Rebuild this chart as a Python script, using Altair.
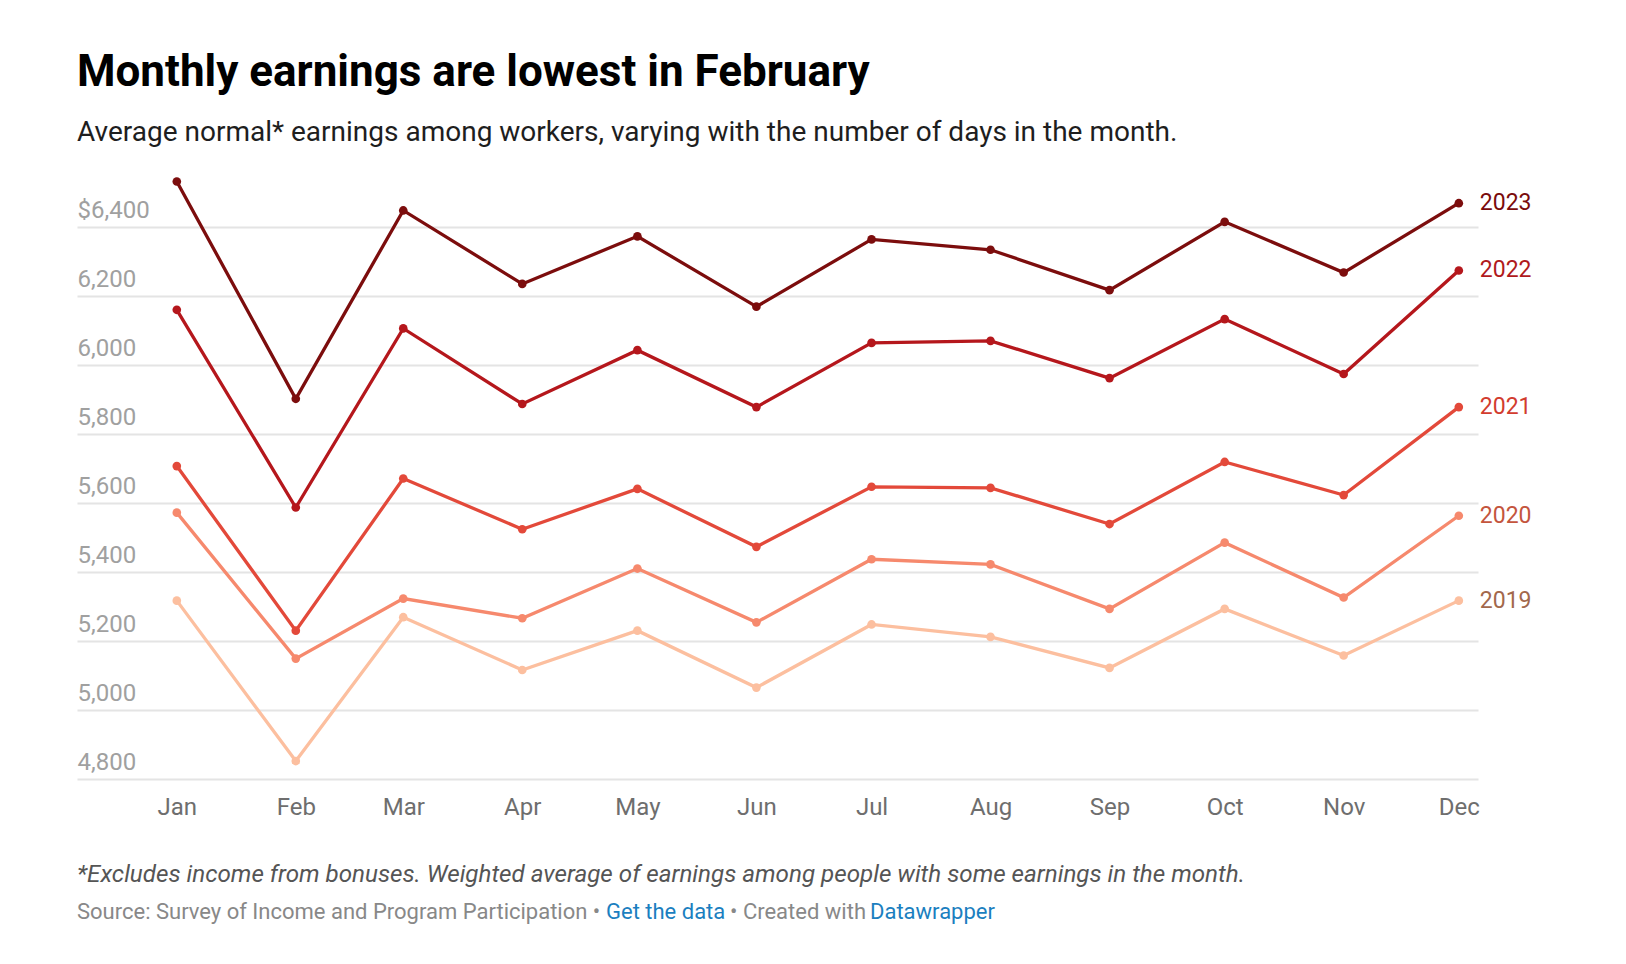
import altair as alt
import pandas as pd

# ---------------- data ----------------
month_starts = ["2023-01-01", "2023-02-01", "2023-03-01", "2023-04-01", "2023-05-01", "2023-06-01",
                "2023-07-01", "2023-08-01", "2023-09-01", "2023-10-01", "2023-11-01", "2023-12-01"]
years = ["2019", "2020", "2021", "2022", "2023"]

earn_2019 = [5317, 4852, 5269, 5116, 5230, 5065, 5248, 5212, 5122, 5293, 5158, 5317]
earn_2020 = [5572, 5149, 5323, 5266, 5410, 5254, 5437, 5422, 5293, 5485, 5326, 5563]
earn_2021 = [5707, 5230, 5671, 5524, 5641, 5473, 5647, 5644, 5539, 5719, 5623, 5878]
earn_2022 = [6160, 5587, 6106, 5887, 6043, 5878, 6064, 6070, 5962, 6133, 5974, 6274]
earn_2023 = [6532, 5902, 6448, 6235, 6373, 6169, 6364, 6334, 6217, 6415, 6268, 6469]
series = [earn_2019, earn_2020, earn_2021, earn_2022, earn_2023]

y_ticks = [4800, 5000, 5200, 5400, 5600, 5800, 6000, 6200, 6400]

line_colors = ["#fcbf9f", "#f6896d", "#e3493a", "#b5171c", "#7c0d0d"]
label_colors = ["#a2684c", "#c4553d", "#d23c2e", "#b01a1c", "#7a0b0b"]

title_text = "Monthly earnings are lowest in February"
subtitle_text = "Average normal* earnings among workers, varying with the number of days in the month."
footnote_text = "*Excludes income from bonuses. Weighted average of earnings among people with some earnings in the month."
source_parts = ["Source: Survey of Income and Program Participation \u2022", "Get the data",
                "\u2022 Created with", "Datawrapper"]
source_colors = ["#888888", "#1b7fc0", "#888888", "#1b7fc0"]

rows = []
for yr, vals in zip(years, series):
    for d, v in zip(month_starts, vals):
        rows.append({"year": yr, "date": d, "value": v})
df = pd.DataFrame(rows)
last = df[df["date"] == month_starts[-1]]

W = 1401
H = 621

x_enc = alt.X(
    "date:T",
    scale=alt.Scale(type="utc", domain=[alt.DateTime(year=2022, month=12, date=6, utc=True),
                                        alt.DateTime(year=2023, month=12, date=6, utc=True)]),
    axis=alt.Axis(
        values=[alt.DateTime(year=2023, month=m, date=1, utc=True) for m in range(1, 13)],
        format="%b", labelFont="Roboto", labelFontSize=24, labelColor="#6e6e6e",
        labelPadding=16, labelFlush=False, domain=False, ticks=False, grid=False, title=None,
    ),
)
y_enc = alt.Y(
    "value:Q",
    scale=alt.Scale(domain=[4800, 6600], nice=False, zero=False),
    axis=alt.Axis(
        values=y_ticks,
        labelExpr="datum.value == 6400 ? '$6,400' : format(datum.value, ',')",
        labelAlign="left", labelBaseline="alphabetic", labelOffset=-10, labelPadding=0,
        ticks=False, tickSize=0, domain=False, grid=True, gridColor="#e4e4e4", gridWidth=2,
        labelFont="Roboto", labelFontSize=24, labelColor="#a0a0a0", title=None,
    ),
)
color_enc = alt.Color("year:N", scale=alt.Scale(domain=years, range=line_colors), legend=None)

base = alt.Chart(df)
lines = base.mark_line(strokeWidth=3.3).encode(x=x_enc, y=y_enc, color=color_enc)
points = base.mark_circle(size=75, opacity=1).encode(x=x_enc, y=y_enc, color=color_enc)
labels = alt.Chart(last).mark_text(
    align="left", baseline="middle", dx=21, font="Roboto", fontSize=23
).encode(
    x=x_enc, y=y_enc, text="year:N",
    fill=alt.Fill("year:N", scale=alt.Scale(domain=years, range=label_colors), legend=None),
)

foot = alt.Chart(pd.DataFrame({"t": [footnote_text]})).mark_text(
    align="left", baseline="alphabetic", font="Roboto", fontSize=24.2, fontStyle="italic", color="#555555"
).encode(text="t:N", x=alt.value(0), y=alt.value(H + 103))

src_x = [0, 529, 653, 793]
src_layers = []
for txt, col, xx in zip(source_parts, source_colors, src_x):
    src_layers.append(
        alt.Chart(pd.DataFrame({"t": [txt]})).mark_text(
            align="left", baseline="alphabetic", font="Roboto", fontSize=22, color=col
        ).encode(text="t:N", x=alt.value(xx), y=alt.value(H + 140))
    )

chart = alt.layer(lines, points, labels, foot, *src_layers).resolve_scale(
    color="independent", fill="independent"
).properties(
    width=W, height=H,
    background="white",
    title=alt.TitleParams(
        text=title_text, subtitle=subtitle_text, anchor="start", frame="group",
        font="Roboto", fontSize=44, fontWeight="bold", color="#000000",
        subtitleFont="Roboto", subtitleFontSize=28, subtitleColor="#1e1e1e",
        subtitlePadding=24, offset=11, dx=0,
    ),
    padding={"left": 69, "top": 43, "right": 10, "bottom": 10},
).configure_view(stroke=None, strokeWidth=0)

chart.save("out.html", embed_options={"renderer": "svg", "actions": False})
